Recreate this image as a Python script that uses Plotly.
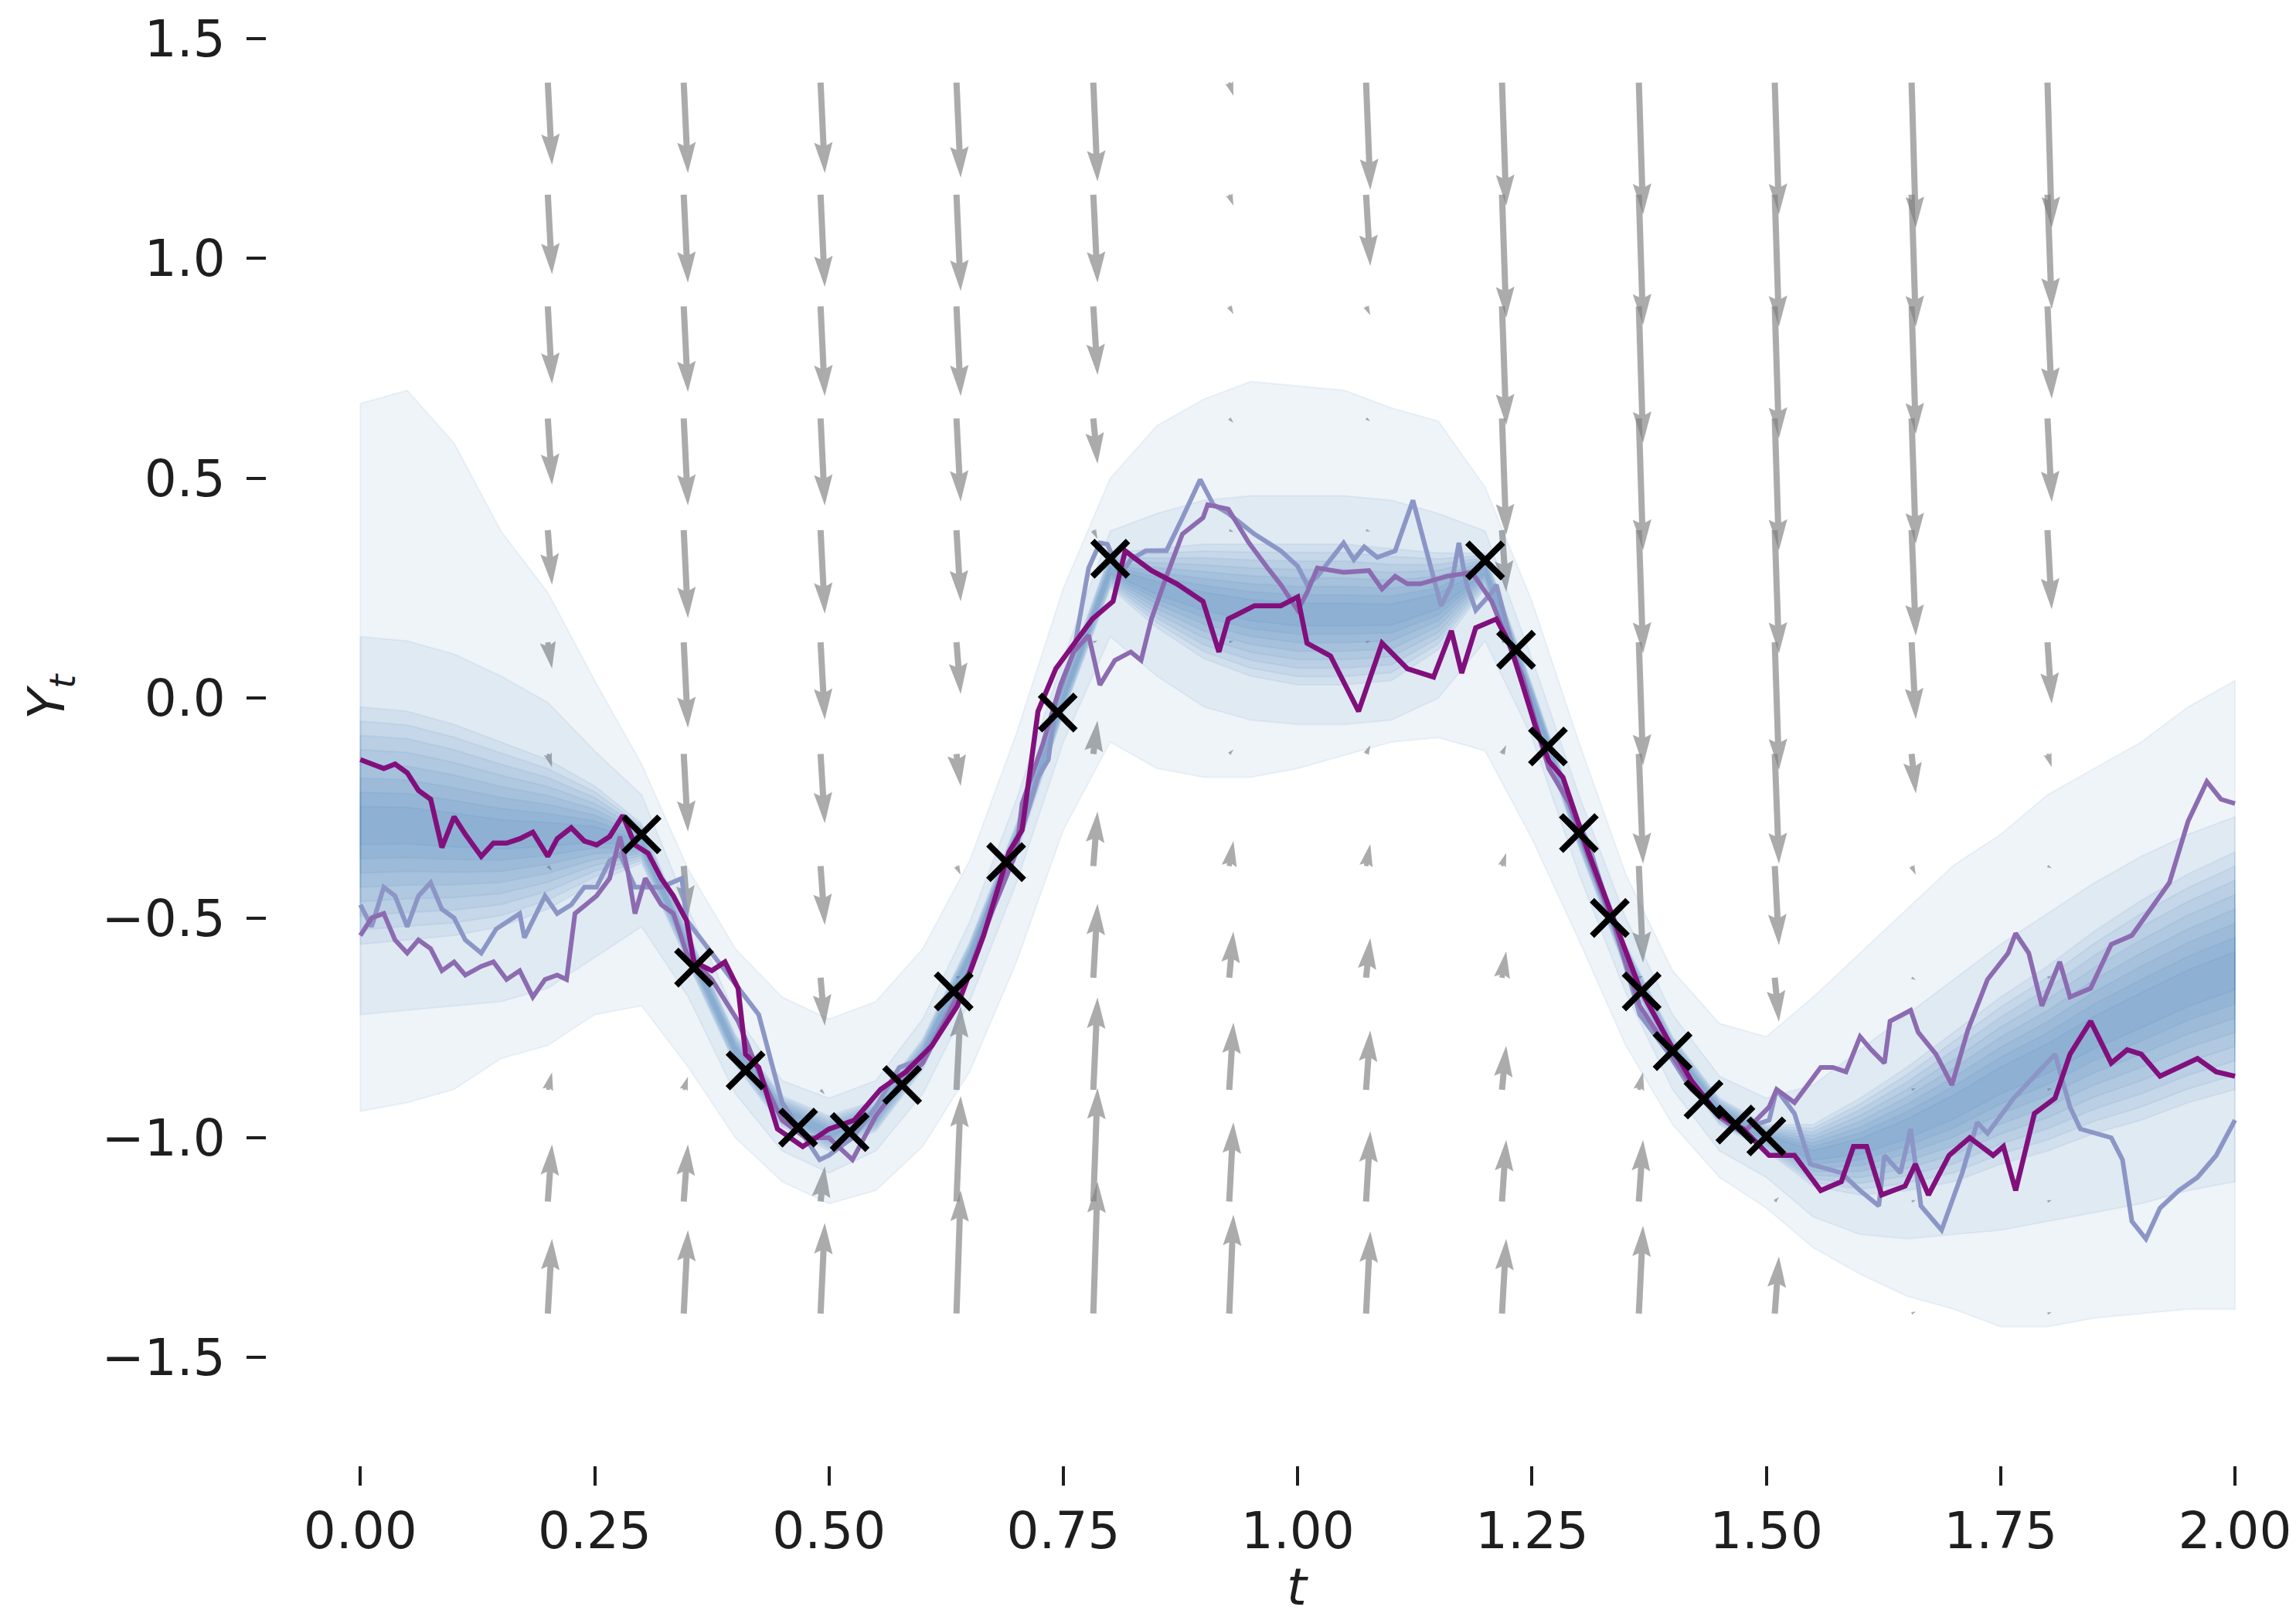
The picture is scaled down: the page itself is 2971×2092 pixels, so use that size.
import numpy as np
import plotly.graph_objects as go

# ---------------- data ----------------
obs_t = [0.300, 0.356, 0.411, 0.467, 0.522, 0.578, 0.633, 0.689, 0.744, 0.800,
         1.200, 1.233, 1.267, 1.300, 1.333, 1.367, 1.400, 1.433, 1.467, 1.500]
obs_y = [-0.31, -0.613, -0.847, -0.977, -0.987, -0.88, -0.667, -0.373, -0.033, 0.317,
         0.313, 0.11, -0.11, -0.307, -0.50, -0.667, -0.803, -0.913, -0.97, -0.997]

# quiver grid
grid_t = [0.200, 0.345, 0.491, 0.636, 0.782, 0.927, 1.073, 1.218, 1.364, 1.509, 1.655, 1.800]
grid_y = [1.400, 1.145, 0.891, 0.636, 0.382, 0.127, -0.127, -0.382, -0.636, -0.891, -1.145, -1.400]
arrow_u = 0.0045
# arrow_v[column][row]  (rows from top y=1.4 to bottom y=-1.4)
arrow_v = [
    [-0.187, -0.181, -0.176, -0.151, -0.124, -0.060, -0.030, -0.010, 0.004, 0.040, 0.130, 0.170],
    [-0.206, -0.200, -0.195, -0.198, -0.200, -0.195, -0.177, -0.115, 0.004, 0.030, 0.130, 0.190],
    [-0.206, -0.210, -0.204, -0.198, -0.190, -0.176, -0.158, -0.134, -0.109, -0.010, 0.080, 0.206],
    [-0.216, -0.219, -0.204, -0.189, -0.162, -0.118, -0.073, -0.020, 0.004, 0.190, 0.240, 0.280],
    [-0.225, -0.200, -0.156, -0.103, -0.020, 0.004, 0.076, 0.124, 0.168, 0.210, 0.258, 0.300],
    [-0.030, -0.025, -0.018, -0.010, -0.004, 0.004, 0.010, 0.057, 0.105, 0.153, 0.180, 0.225],
    [-0.244, -0.162, -0.020, -0.006, -0.003, 0.003, 0.020, 0.050, 0.090, 0.135, 0.160, 0.187],
    [-0.280, -0.280, -0.270, -0.265, -0.140, 0.004, 0.020, 0.030, 0.060, 0.100, 0.140, 0.170],
    [-0.300, -0.296, -0.310, -0.300, -0.280, -0.280, -0.250, -0.220, 0.004, 0.040, 0.140, 0.200],
    [-0.300, -0.300, -0.300, -0.300, -0.280, -0.290, -0.250, -0.180, -0.100, 0.004, 0.010, 0.130],
    [-0.330, -0.300, -0.290, -0.285, -0.240, -0.175, -0.090, -0.020, -0.005, 0.003, 0.003, 0.005],
    [-0.330, -0.260, -0.210, -0.190, -0.180, -0.140, -0.030, -0.005, 0.003, 0.003, 0.003, 0.003],
]

# distribution bands
band_t = [0.00, 0.05, 0.10, 0.15, 0.20, 0.25, 0.30, 0.35, 0.40, 0.45, 0.50, 0.55, 0.60, 0.65,
          0.70, 0.75, 0.80, 0.85, 0.90, 0.95, 1.00, 1.05, 1.10, 1.15, 1.20, 1.25, 1.30, 1.35,
          1.40, 1.45, 1.50, 1.55, 1.60, 1.65, 1.70, 1.75, 1.80, 1.85, 1.90, 1.95, 2.00]
band_mid = [-0.29, -0.29, -0.30, -0.31, -0.31, -0.31, -0.33, -0.57, -0.80, -0.94, -0.99, -0.95, -0.81, -0.59,
            -0.32, 0.00, 0.29, 0.25, 0.22, 0.20, 0.19, 0.19, 0.19, 0.22, 0.29, 0.00, -0.31, -0.59,
            -0.80, -0.94, -1.00, -1.04, -1.02, -0.98, -0.93, -0.87, -0.82, -0.76, -0.71, -0.66, -0.62]
band_core = [0.27, 0.26, 0.24, 0.21, 0.17, 0.11, 0.045, 0.035, 0.035, 0.035, 0.04, 0.035, 0.035, 0.035,
             0.035, 0.035, 0.04, 0.09, 0.13, 0.15, 0.16, 0.16, 0.15, 0.11, 0.04, 0.03, 0.03, 0.03,
             0.03, 0.03, 0.03, 0.07, 0.11, 0.14, 0.17, 0.19, 0.21, 0.23, 0.25, 0.26, 0.27]
band2_up = [0.14, 0.13, 0.10, 0.05, -0.01, -0.12, -0.22, -0.48, -0.72, -0.87, -0.91, -0.87, -0.73, -0.51,
            -0.23, 0.09, 0.38, 0.42, 0.45, 0.46, 0.46, 0.46, 0.45, 0.42, 0.38, 0.09, -0.22, -0.50,
            -0.72, -0.86, -0.91, -0.88, -0.80, -0.72, -0.64, -0.56, -0.49, -0.42, -0.36, -0.31, -0.27]
band2_lo = [-0.72, -0.71, -0.70, -0.69, -0.66, -0.59, -0.52, -0.68, -0.90, -1.03, -1.08, -1.03, -0.90, -0.69,
            -0.42, -0.10, 0.14, 0.05, -0.02, -0.05, -0.06, -0.06, -0.05, 0.00, 0.13, -0.09, -0.40, -0.67,
            -0.89, -1.03, -1.09, -1.18, -1.22, -1.23, -1.22, -1.21, -1.19, -1.17, -1.15, -1.12, -1.10]
band1_up = [0.67, 0.70, 0.58, 0.38, 0.24, 0.04, -0.15, -0.39, -0.57, -0.68, -0.73, -0.69, -0.57, -0.37,
            -0.08, 0.25, 0.50, 0.62, 0.68, 0.72, 0.71, 0.70, 0.66, 0.63, 0.48, 0.22, -0.10, -0.40,
            -0.62, -0.74, -0.77, -0.68, -0.58, -0.48, -0.38, -0.31, -0.22, -0.16, -0.10, -0.02, 0.04]
band1_lo = [-0.94, -0.92, -0.89, -0.82, -0.79, -0.72, -0.70, -0.84, -1.00, -1.10, -1.15, -1.12, -1.02, -0.85,
            -0.60, -0.30, -0.10, -0.16, -0.18, -0.18, -0.16, -0.13, -0.10, -0.09, -0.12, -0.32, -0.55, -0.79,
            -0.97, -1.09, -1.16, -1.25, -1.31, -1.36, -1.39, -1.43, -1.43, -1.41, -1.40, -1.39, -1.39]
core_levels = [1.0, 0.88, 0.76, 0.64, 0.52, 0.40, 0.28, 0.16]

# sample paths
mag_t = [0.000, 0.012, 0.025, 0.037, 0.050, 0.062, 0.075, 0.087, 0.100, 0.112, 0.129, 0.142, 0.156, 0.170,
         0.184, 0.200, 0.210, 0.225, 0.239, 0.252, 0.266, 0.280, 0.293, 0.307, 0.321, 0.334, 0.348, 0.356,
         0.375, 0.389, 0.403, 0.411, 0.425, 0.445, 0.472, 0.500, 0.527, 0.555, 0.582, 0.610, 0.637, 0.665,
         0.692, 0.706, 0.714, 0.723, 0.742, 0.761, 0.781, 0.803, 0.816, 0.825, 0.844, 0.871, 0.899, 0.916,
         0.926, 0.954, 0.982, 1.000, 1.010, 1.035, 1.065, 1.090, 1.117, 1.145, 1.164, 1.175, 1.190, 1.212,
         1.226, 1.240, 1.254, 1.268, 1.283, 1.310, 1.338, 1.365, 1.393, 1.420, 1.448, 1.475, 1.503, 1.530,
         1.558, 1.580, 1.593, 1.607, 1.623, 1.648, 1.659, 1.673, 1.695, 1.717, 1.742, 1.753, 1.766, 1.786,
         1.808, 1.824, 1.846, 1.868, 1.885, 1.900, 1.920, 1.940, 1.960, 1.980, 2.000]
mag_y = [-0.14, -0.15, -0.16, -0.15, -0.17, -0.21, -0.23, -0.34, -0.27, -0.31, -0.36, -0.33, -0.33, -0.32,
         -0.305, -0.36, -0.32, -0.295, -0.325, -0.334, -0.315, -0.267, -0.334, -0.353, -0.41, -0.45, -0.506, -0.60,
         -0.62, -0.60, -0.66, -0.81, -0.84, -0.98, -1.02, -0.98, -0.96, -0.89, -0.85, -0.79, -0.70, -0.54,
         -0.35, -0.30, -0.18, -0.03, 0.067, 0.124, 0.18, 0.22, 0.335, 0.32, 0.29, 0.26, 0.22, 0.105,
         0.18, 0.21, 0.21, 0.23, 0.125, 0.096, -0.03, 0.125, 0.067, 0.048, 0.153, 0.057, 0.16, 0.18,
         0.124, 0.03, -0.067, -0.143, -0.18, -0.35, -0.51, -0.66, -0.77, -0.87, -0.945, -0.98, -1.04, -1.04,
         -1.12, -1.10, -1.02, -1.02, -1.13, -1.11, -1.06, -1.13, -1.04, -1.00, -1.04, -1.02, -1.12, -0.945,
         -0.91, -0.81, -0.735, -0.83, -0.80, -0.81, -0.86, -0.84, -0.82, -0.85, -0.86]

pur_t = [0.000, 0.012, 0.025, 0.037, 0.050, 0.062, 0.075, 0.087, 0.100, 0.112, 0.129, 0.142, 0.156, 0.170,
         0.184, 0.197, 0.210, 0.220, 0.229, 0.252, 0.266, 0.277, 0.285, 0.293, 0.304, 0.321, 0.334, 0.348,
         0.375, 0.403, 0.425, 0.450, 0.475, 0.500, 0.525, 0.550, 0.575, 0.600, 0.625, 0.650, 0.675, 0.700,
         0.706, 0.728, 0.747, 0.761, 0.777, 0.789, 0.805, 0.822, 0.833, 0.844, 0.860, 0.877, 0.899, 0.904,
         0.926, 0.948, 0.968, 0.982, 1.000, 1.010, 1.021, 1.049, 1.076, 1.090, 1.104, 1.117, 1.131, 1.159,
         1.186, 1.207, 1.218, 1.240, 1.268, 1.290, 1.310, 1.338, 1.365, 1.393, 1.420, 1.448, 1.475, 1.503,
         1.511, 1.530, 1.558, 1.571, 1.585, 1.600, 1.612, 1.626, 1.632, 1.654, 1.662, 1.681, 1.698, 1.715,
         1.736, 1.758, 1.766, 1.780, 1.794, 1.813, 1.824, 1.846, 1.868, 1.890, 1.910, 1.930, 1.950, 1.970,
         1.985, 2.000]
pur_y = [-0.54, -0.50, -0.49, -0.55, -0.58, -0.55, -0.57, -0.62, -0.60, -0.63, -0.61, -0.60, -0.64, -0.62,
         -0.68, -0.64, -0.63, -0.64, -0.49, -0.45, -0.41, -0.315, -0.39, -0.49, -0.41, -0.47, -0.49, -0.58,
         -0.64, -0.735, -0.85, -0.96, -1.00, -1.00, -1.05, -0.95, -0.88, -0.83, -0.73, -0.62, -0.48, -0.35,
         -0.24, -0.105, 0.03, 0.105, 0.143, 0.03, 0.086, 0.105, 0.086, 0.18, 0.277, 0.373, 0.41, 0.44,
         0.43, 0.353, 0.296, 0.258, 0.20, 0.24, 0.296, 0.286, 0.29, 0.248, 0.277, 0.26, 0.26, 0.277,
         0.286, 0.22, 0.162, 0.048, -0.16, -0.24, -0.36, -0.52, -0.70, -0.79, -0.88, -0.95, -0.99, -0.93,
         -0.89, -0.92, -0.84, -0.84, -0.85, -0.77, -0.80, -0.83, -0.735, -0.71, -0.76, -0.81, -0.88, -0.755,
         -0.64, -0.58, -0.535, -0.58, -0.70, -0.60, -0.68, -0.66, -0.56, -0.54, -0.48, -0.42, -0.28, -0.19,
         -0.23, -0.24]

blu_t = [0.000, 0.012, 0.025, 0.037, 0.050, 0.062, 0.075, 0.087, 0.100, 0.112, 0.129, 0.145, 0.170, 0.175,
         0.197, 0.210, 0.225, 0.239, 0.252, 0.266, 0.277, 0.293, 0.321, 0.343, 0.348, 0.375, 0.403, 0.425,
         0.450, 0.475, 0.490, 0.500, 0.525, 0.550, 0.575, 0.600, 0.625, 0.650, 0.675, 0.700, 0.706, 0.723,
         0.734, 0.742, 0.761, 0.777, 0.789, 0.797, 0.811, 0.822, 0.838, 0.860, 0.877, 0.896, 0.910, 0.926,
         0.954, 0.970, 0.982, 1.000, 1.010, 1.021, 1.049, 1.060, 1.071, 1.085, 1.104, 1.123, 1.137, 1.153,
         1.164, 1.172, 1.180, 1.190, 1.207, 1.212, 1.226, 1.240, 1.268, 1.290, 1.310, 1.338, 1.365, 1.393,
         1.420, 1.448, 1.475, 1.503, 1.511, 1.530, 1.547, 1.580, 1.600, 1.620, 1.626, 1.643, 1.654, 1.665,
         1.687, 1.709, 1.725, 1.736, 1.764, 1.791, 1.808, 1.824, 1.835, 1.868, 1.880, 1.890, 1.905, 1.920,
         1.940, 1.960, 1.980, 2.000]
blu_y = [-0.47, -0.52, -0.43, -0.45, -0.52, -0.45, -0.42, -0.48, -0.50, -0.55, -0.58, -0.525, -0.49, -0.545,
         -0.45, -0.49, -0.47, -0.43, -0.43, -0.37, -0.355, -0.43, -0.43, -0.41, -0.505, -0.58, -0.66, -0.72,
         -0.92, -1.00, -1.05, -1.04, -1.00, -0.93, -0.84, -0.82, -0.72, -0.62, -0.45, -0.32, -0.30, -0.18,
         -0.14, -0.01, 0.105, 0.296, 0.353, 0.35, 0.28, 0.315, 0.335, 0.335, 0.41, 0.497, 0.44, 0.42,
         0.373, 0.353, 0.335, 0.30, 0.258, 0.277, 0.353, 0.315, 0.344, 0.32, 0.335, 0.45, 0.335, 0.21,
         0.258, 0.353, 0.26, 0.20, 0.24, 0.258, 0.143, 0.03, -0.16, -0.24, -0.33, -0.52, -0.72, -0.80,
         -0.89, -0.94, -0.98, -0.96, -0.89, -0.945, -1.06, -1.08, -1.12, -1.155, -1.04, -1.08, -0.98, -1.155,
         -1.21, -1.08, -0.965, -0.99, -0.91, -0.85, -0.81, -0.93, -0.98, -1.00, -1.05, -1.19, -1.23, -1.16,
         -1.12, -1.09, -1.04, -0.96]

x_ticks = [0.0, 0.25, 0.5, 0.75, 1.0, 1.25, 1.5, 1.75, 2.0]
y_ticks = [-1.5, -1.0, -0.5, 0.0, 0.5, 1.0, 1.5]

# ---------------- layout geometry ----------------
W_FIG, H_FIG = 2971, 2092
M_L, M_R, M_T, M_B = 337, 0, 0, 204
X_RANGE = [-0.1, 2.0717]
Y_RANGE = [-1.7455, 1.5738]
PX_X = (W_FIG - M_L - M_R) / (X_RANGE[1] - X_RANGE[0])
PX_Y = (H_FIG - M_T - M_B) / (Y_RANGE[1] - Y_RANGE[0])
FONT = "DejaVu Sans"
TXT = "#1e1e1e"

fig = go.Figure()

# ---------------- quiver (drawn first, behind bands) ----------------
SW = 8.0            # shaft width px
HW, HL, HAL = 3 * SW, 5 * SW, 4.5 * SW


def arrow_polygon(t0, y0, u, v):
    dx, dy = u * PX_X, v * PX_Y
    L = float(np.hypot(dx, dy))
    if L == 0:
        return None
    ux, uy = dx / L, dy / L
    nx, ny = -uy, ux
    if L < HL:
        f, Ls = L / HL, HL
    else:
        f, Ls = 1.0, L
    local = [(0, -SW / 2), (Ls - HAL, -SW / 2), (Ls - HL, -HW / 2), (Ls, 0),
             (Ls - HL, HW / 2), (Ls - HAL, SW / 2), (0, SW / 2), (0, -SW / 2)]
    xs, ys = [], []
    for a, b in local:
        a, b = a * f, b * f
        px, py = a * ux + b * nx, a * uy + b * ny
        xs.append(t0 + px / PX_X)
        ys.append(y0 + py / PX_Y)
    return xs, ys


for parity in (0, 1):
    ax_, ay_ = [], []
    for ci, t0 in enumerate(grid_t):
        for ri, y0 in enumerate(grid_y):
            if ri % 2 != parity:
                continue
            poly = arrow_polygon(t0, y0, arrow_u, arrow_v[ci][ri])
            if poly is None:
                continue
            ax_ += poly[0] + [None]
            ay_ += poly[1] + [None]
    fig.add_trace(go.Scatter(x=ax_, y=ay_, mode="lines", fill="toself",
                             fillcolor="rgba(128,128,128,0.66)", line=dict(width=0),
                             hoverinfo="skip", showlegend=False))

# ---------------- bands ----------------
BAND_RGB = "70,130,180"
BAND_A = 0.085
levels = [(band1_up, band1_lo), (band2_up, band2_lo)]
mid = np.array(band_mid)
core = np.array(band_core)
for z in core_levels:
    levels.append((list(mid + z * core), list(mid - z * core)))
for up, lo in levels:
    xs = list(band_t) + list(band_t[::-1]) + [band_t[0]]
    ys = list(up) + list(lo[::-1]) + [up[0]]
    fig.add_trace(go.Scatter(x=xs, y=ys, mode="lines", fill="toself",
                             fillcolor=f"rgba({BAND_RGB},{BAND_A})",
                             line=dict(color=f"rgba({BAND_RGB},{BAND_A})", width=2),
                             hoverinfo="skip", showlegend=False))

# ---------------- sample paths ----------------
for tt, yy, col, w in [(blu_t, blu_y, "#8c96c6", 6), (pur_t, pur_y, "#8c6bb1", 6),
                       (mag_t, mag_y, "#810f7c", 6.5)]:
    fig.add_trace(go.Scatter(x=tt, y=yy, mode="lines", line=dict(color=col, width=w),
                             hoverinfo="skip", showlegend=False))

# ---------------- observations ----------------
fig.add_trace(go.Scatter(x=obs_t, y=obs_y, mode="markers",
                         marker=dict(symbol="x-thin", size=46, color="black",
                                     line=dict(width=8, color="black")),
                         hoverinfo="skip", showlegend=False))

axis_common = dict(showgrid=False, zeroline=False, showline=False, ticks="outside",
                   ticklen=25, tickwidth=3.5, tickcolor=TXT,
                   tickfont=dict(family=FONT, size=66, color=TXT), automargin=False)

PLOT_H = H_FIG - M_T - M_B
PLOT_W = W_FIG - M_L - M_R
fig.update_layout(
    width=W_FIG, height=H_FIG,
    margin=dict(l=M_L, r=M_R, t=M_T, b=M_B, pad=0),
    paper_bgcolor="white", plot_bgcolor="white",
    xaxis=dict(range=X_RANGE, tickvals=x_ticks, tickformat=".2f", ticklabelstandoff=2, **axis_common),
    yaxis=dict(range=Y_RANGE, tickvals=y_ticks, tickformat=".1f", ticklabelstandoff=14, **axis_common),
    annotations=[
        dict(text="<i>t</i>", xref="paper", yref="paper",
             x=(0.5 * (464 + 2890) - 6 - M_L) / PLOT_W,
             y=(PLOT_H - 2086) / PLOT_H, showarrow=False, xanchor="center", yanchor="bottom",
             font=dict(family=FONT, size=66, color=TXT)),
        dict(text="<i>Y</i><sub><i>t</i></sub>", xref="paper", yref="paper",
             x=(57 - M_L) / PLOT_W, y=(PLOT_H - 893) / PLOT_H,
             textangle=-90, showarrow=False, xanchor="center", yanchor="middle",
             font=dict(family=FONT, size=66, color=TXT)),
    ],
)

fig.write_html("out.html")
